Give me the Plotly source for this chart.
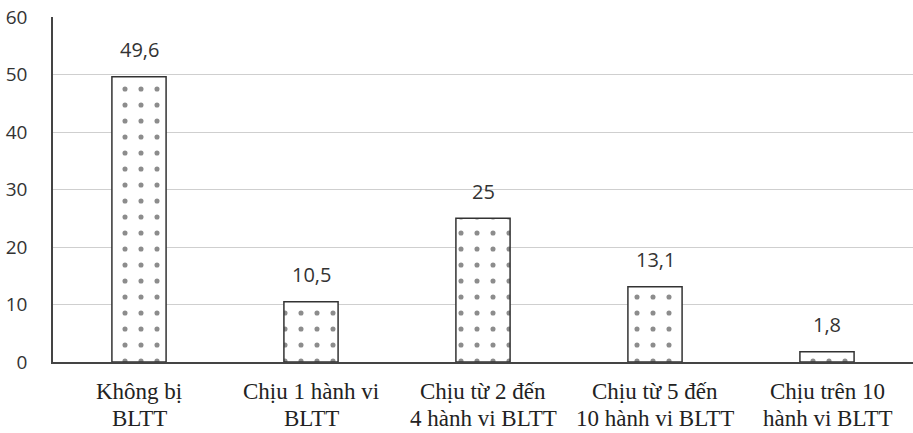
import plotly.graph_objects as go

categories = [
    "Không bị<br>BLTT",
    "Chịu 1 hành vi<br>BLTT",
    "Chịu từ 2 đến<br>4 hành vi BLTT",
    "Chịu từ 5 đến<br>10 hành vi BLTT",
    "Chịu trên 10<br>hành vi BLTT",
]
values = [49.6, 10.5, 25, 13.1, 1.8]
y_ticks = [0, 10, 20, 30, 40, 50, 60]

labels = [f"{v:g}".replace(".", ",") for v in values]

fig = go.Figure()
fig.add_trace(go.Bar(
    x=categories,
    y=values,
    width=0.315,
    marker=dict(
        color="white",
        line=dict(color="#333333", width=1.5),
        pattern=dict(shape=".", size=16, solidity=0.08, fgcolor="#1a1a1a", bgcolor="white"),
    ),
    hoverinfo="skip",
))

# value labels above each bar
for c, v, t in zip(categories, values, labels):
    fig.add_annotation(
        x=c, y=v, text=t, showarrow=False, yanchor="middle", yshift=27,
        font=dict(family="Open Sans, Liberation Sans, sans-serif", size=20, color="#333333"),
    )

# category names under the axis, one annotation per line for tighter spacing
serif = dict(family="Liberation Serif, Times New Roman, serif", size=23, color="#222222")
for c in categories:
    for i, line in enumerate(c.split("<br>")):
        fig.add_annotation(
            x=c, y=0, xref="x", yref="paper", text=line, showarrow=False,
            yanchor="middle", yshift=-29 - 27 * i, font=serif,
        )

fig.update_layout(
    width=913, height=433,
    margin=dict(l=53, r=0, t=17, b=71),
    paper_bgcolor="white", plot_bgcolor="white",
    showlegend=False,
    bargap=0.5,
)
fig.update_xaxes(
    showline=True, linecolor="#444444", linewidth=1.5,
    ticks="", showgrid=False, showticklabels=False,
)
fig.update_yaxes(
    range=[0, 60], tickvals=y_ticks,
    showline=True, linecolor="#444444", linewidth=1.5,
    showgrid=True, gridcolor="#cfcfcf", gridwidth=1,
    zeroline=False, ticks="", ticklabelstandoff=20,
    tickfont=dict(family="Open Sans, Liberation Sans, sans-serif", size=19, color="#333333"),
)

fig.write_html("out.html")
